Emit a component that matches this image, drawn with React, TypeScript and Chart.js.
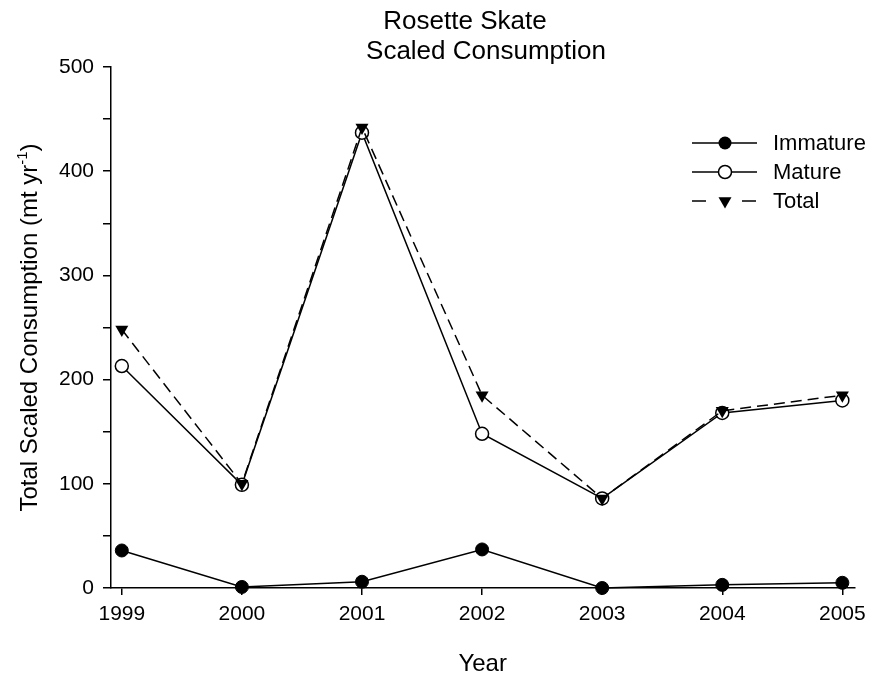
import React, { useEffect, useRef } from 'react';
import { Chart, registerables } from 'chart.js';

Chart.register(...registerables);

const years = [1999, 2000, 2001, 2002, 2003, 2004, 2005];
const immature = [36, 1, 6, 37, 0, 3, 5];
const mature = [213, 99, 437, 148, 86, 168, 180];
const total = [248, 100, 442, 185, 86, 170, 185];
const yMajorTicks = [0, 100, 200, 300, 400, 500];
const yMinorTicks = [50, 150, 250, 350, 450];
const seriesNames = ['Immature', 'Mature', 'Total'];
const titleLines = ['Rosette Skate', 'Scaled Consumption'];
const xTitle = 'Year';
const yTitleMain = 'Total Scaled Consumption (mt yr';
const yTitleSup = '-1';
const yTitleEnd = ')';

const FONT = '"Liberation Sans", Arial, Helvetica, sans-serif';

function drawMarker(ctx: CanvasRenderingContext2D, kind: string, x: number, y: number) {
  ctx.save();
  ctx.lineWidth = 1.5;
  ctx.strokeStyle = '#000';
  ctx.setLineDash([]);
  if (kind === 'filled') {
    ctx.fillStyle = '#000';
    ctx.beginPath();
    ctx.arc(x, y, 6.5, 0, Math.PI * 2);
    ctx.fill();
  } else if (kind === 'open') {
    ctx.fillStyle = '#fff';
    ctx.beginPath();
    ctx.arc(x, y, 6.5, 0, Math.PI * 2);
    ctx.fill();
    ctx.stroke();
  } else {
    const r = 7.5;
    ctx.fillStyle = '#000';
    ctx.beginPath();
    ctx.moveTo(x, y + r);
    ctx.lineTo(x - r * Math.sin(Math.PI / 3), y - r / 2);
    ctx.lineTo(x + r * Math.sin(Math.PI / 3), y - r / 2);
    ctx.closePath();
    ctx.fill();
  }
  ctx.restore();
}

const textPlugin = {
  id: 'textPlugin',
  afterDraw(chart: any) {
    const ctx: CanvasRenderingContext2D = chart.ctx;
    const area = chart.chartArea;
    ctx.save();
    ctx.fillStyle = '#000';
    // Title
    ctx.font = `26px ${FONT}`;
    ctx.textAlign = 'center';
    ctx.textBaseline = 'middle';
    ctx.fillText(titleLines[0], 465, 22);
    ctx.fillText(titleLines[1], 486, 52);

    // X title
    ctx.font = `24px ${FONT}`;
    ctx.textBaseline = 'alphabetic';
    ctx.fillText(xTitle, (area.left + area.right) / 2, 671);

    // Y title with superscript
    ctx.save();
    ctx.translate(37, (area.top + area.bottom) / 2);
    ctx.rotate(-Math.PI / 2);
    ctx.textAlign = 'left';
    ctx.textBaseline = 'alphabetic';
    ctx.font = `24px ${FONT}`;
    const w1 = ctx.measureText(yTitleMain).width;
    const w3 = ctx.measureText(yTitleEnd).width;
    ctx.font = `15px ${FONT}`;
    const w2 = ctx.measureText(yTitleSup).width;
    const W = w1 + w2 + w3;
    let sx = -W / 2;
    ctx.font = `24px ${FONT}`;
    ctx.fillText(yTitleMain, sx, 0);
    sx += w1;
    ctx.font = `15px ${FONT}`;
    ctx.fillText(yTitleSup, sx, -10);
    sx += w2;
    ctx.font = `24px ${FONT}`;
    ctx.fillText(yTitleEnd, sx, 0);
    ctx.restore();

    // Legend
    const kinds = ['filled', 'open', 'tri'];
    const rowY = [143, 172, 201];
    ctx.lineWidth = 1.5;
    ctx.strokeStyle = '#000';
    for (let i = 0; i < 3; i++) {
      const y = rowY[i];
      ctx.beginPath();
      if (i === 2) {
        ctx.moveTo(692, y);
        ctx.lineTo(706, y);
        ctx.moveTo(742, y);
        ctx.lineTo(756, y);
      } else {
        ctx.moveTo(692, y);
        ctx.lineTo(757, y);
      }
      ctx.stroke();
      drawMarker(ctx, kinds[i], 725, y);
      ctx.font = `22px ${FONT}`;
      ctx.textAlign = 'left';
      ctx.textBaseline = 'middle';
      ctx.fillStyle = '#000';
      ctx.fillText(seriesNames[i], 773, y + 1);
    }
    ctx.restore();
  },
};

export default function App() {
  const ref = useRef<HTMLCanvasElement | null>(null);
  useEffect(() => {
    if (!ref.current) return;
    const toXY = (arr: number[]) => years.map((x, i) => ({ x, y: arr[i] }));
    const chart = new Chart(ref.current, {
      type: 'line',
      data: {
        datasets: [
          {
            label: seriesNames[2],
            data: toXY(total),
            borderColor: '#000',
            borderWidth: 1.5,
            borderDash: [11, 6],
            pointStyle: 'triangle',
            rotation: 180,
            pointRadius: 7.5,
            pointBackgroundColor: '#000',
            pointBorderColor: '#000',
            pointBorderWidth: 0,
            fill: false,
            tension: 0,
            clip: false,
            order: 0,
          } as any,
          {
            label: seriesNames[1],
            data: toXY(mature),
            borderColor: '#000',
            borderWidth: 1.5,
            pointStyle: 'circle',
            pointRadius: 6.5,
            pointBackgroundColor: '#fff',
            pointBorderColor: '#000',
            pointBorderWidth: 1.5,
            fill: false,
            tension: 0,
            clip: false,
            order: 1,
          } as any,
          {
            label: seriesNames[0],
            data: toXY(immature),
            borderColor: '#000',
            borderWidth: 1.5,
            pointStyle: 'circle',
            pointRadius: 6.5,
            pointBackgroundColor: '#000',
            pointBorderColor: '#000',
            pointBorderWidth: 1,
            fill: false,
            tension: 0,
            clip: false,
            order: 2,
          } as any,
        ],
      },
      options: {
        animation: false,
        responsive: true,
        maintainAspectRatio: false,
        layout: { padding: { left: 0, top: 67, right: 18, bottom: 0 } },
        plugins: {
          legend: { display: false },
          tooltip: { enabled: false },
          title: { display: false },
        },
        scales: {
          x: {
            type: 'linear',
            min: 1998.91,
            max: 2005.1,
            afterBuildTicks: (s: any) => {
              s.ticks = years.map((v) => ({ value: v }));
            },
            afterFit: (s: any) => {
              s.height = 89;
            },
            ticks: {
              callback: (v: any) => String(v),
              color: '#000',
              font: { family: FONT, size: 21 },
              padding: 7,
              maxRotation: 0,
              autoSkip: false,
            },
            grid: {
              drawOnChartArea: false,
              drawTicks: true,
              tickLength: 7,
              color: '#000',
              lineWidth: 1.5,
            },
            border: { display: true, color: '#000', width: 1.5 },
          },
          y: {
            type: 'linear',
            min: 0,
            max: 500,
            afterBuildTicks: (s: any) => {
              s.ticks = [...yMajorTicks, ...yMinorTicks]
                .sort((a, b) => a - b)
                .map((v) => ({ value: v }));
            },
            afterFit: (s: any) => {
              s.width = 111;
            },
            ticks: {
              callback: (v: any) => (yMajorTicks.includes(Number(v)) ? String(v) : ''),
              color: '#000',
              font: { family: FONT, size: 21 },
              padding: 9,
              autoSkip: false,
            },
            grid: {
              drawOnChartArea: false,
              drawTicks: true,
              tickLength: 8,
              color: '#000',
              lineWidth: 1.5,
            },
            border: { display: true, color: '#000', width: 1.5 },
          },
        },
      } as any,
      plugins: [textPlugin],
    });
    return () => chart.destroy();
  }, []);
  return (
    <div style={{ position: 'absolute', left: 0, top: 0, width: 873, height: 677, background: '#fff' }}>
      <canvas ref={ref} />
    </div>
  );
}
